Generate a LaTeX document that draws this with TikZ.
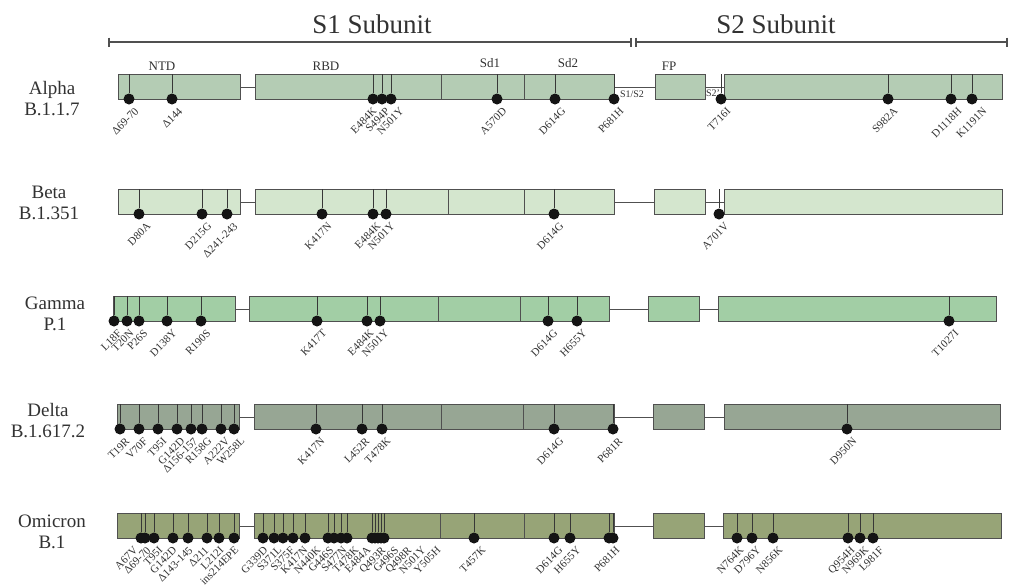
\documentclass[tikz,border=0pt]{standalone}
\usepackage{fontspec}
\setmainfont{Liberation Serif}
\newcount\mutcount
\definecolor{txt}{RGB}{50,50,50}
\definecolor{boxline}{RGB}{80,80,80}
\definecolor{mlinec}{RGB}{55,55,55}
\definecolor{dotc}{RGB}{20,20,20}
\definecolor{alphaC}{RGB}{180,204,180}
\definecolor{betaC}{RGB}{212,230,206}
\definecolor{gammaC}{RGB}{162,206,165}
\definecolor{deltaC}{RGB}{151,166,148}
\definecolor{omicronC}{RGB}{151,164,119}
\tikzset{
  seg/.style={draw=boxline, line width=1.2pt, rectangle, inner sep=0pt, minimum height=25pt, anchor=north west},
  dotn/.style={circle, fill=dotc, inner sep=0pt, minimum size=11pt},
  mlab/.style={font=\fontsize{11}{13}\selectfont, rotate=45, anchor=north east, inner sep=0.5pt, text=txt},
  mline/.style={draw=mlinec, line width=1pt},
  conn/.style={draw=boxline, line width=1pt},
  dom/.style={font=\fontsize{13}{15}\selectfont, text=txt},
  varlab/.style={font=\fontsize{19}{21}\selectfont, align=center, text=txt},
  title/.style={font=\fontsize{27}{30}\selectfont, text=txt, anchor=base},
  small/.style={font=\fontsize{10}{12}\selectfont, text=txt, inner sep=0pt},
  brk/.style={draw=boxline, line width=1.2pt},
}
% name, x1, x2, ytop, colour
\newcommand\segbox[5]{\node[seg, fill=#5, minimum width={(#3-#2)*1pt}] (#1) at (#2,#4) {};}
% x, ytop
\newcommand\divline[2]{\draw[conn] (#1,#2) -- (#1,#2+25);}
% x, ytop, label, label x
\newcommand\mut[4]{%
  \global\advance\mutcount by 1
  \node[dotn] (d\the\mutcount) at (#1,#2+25) {};
  \draw[mline] (#1,#2) -- (d\the\mutcount.north);
  \if\relax\detokenize{#3}\relax\else
  \node[mlab] (l\the\mutcount) at (#4,#2+32) {#3};
  \fi}
\begin{document}
\begin{tikzpicture}[x=1pt,y=-1pt]
\fill[white] (0,0) rectangle (1009,587);
\useasboundingbox (0,0) rectangle (1009,587);

% ---------- header ----------
\coordinate (s1a) at (109,42);
\coordinate (s1b) at (631,42);
\coordinate (s2a) at (636,42);
\coordinate (s2b) at (1007,42);
\draw[brk] (s1a) -- (s1b);
\draw[brk] (s2a) -- (s2b);
\foreach \p in {s1a,s1b,s2a,s2b} \draw[brk] ([yshift=4.5pt]\p) -- ([yshift=-4.5pt]\p);
\node[title] (t1) at (372,33) {S1 Subunit};
\node[title] (t2) at (776,33) {S2 Subunit};

\node[dom] (ntd) at (162,66) {NTD};
\node[dom] (rbd) at (326,66) {RBD};
\node[dom] (sd1) at (490,63) {Sd1};
\node[dom] (sd2) at (568,63) {Sd2};
\node[dom] (fp)  at (669,66) {FP};

% ---------- Alpha ----------
\node[varlab] (vA) at (52,99) {Alpha\\B.1.1.7};
\segbox{a1}{118}{240}{74}{alphaC}
\segbox{a2}{255}{614}{74}{alphaC}
\segbox{a3}{655}{705}{74}{alphaC}
\segbox{a4}{724}{1002}{74}{alphaC}
\draw[conn] (a1.east) -- (a2.west);
\draw[conn] (a2.east) -- (a3.west);
\draw[conn] (a3.east) -- (a4.west);
\divline{441}{74}\divline{524}{74}
\node[small] (s1s2) at (632,94) {S1/S2};
\node[small] (s2p) at (713,93) {S2'};
\mut{129}{74}{Δ69-70}{134}
\mut{172}{74}{Δ144}{178}
\mut{373}{74}{E484K}{372}
\mut{382}{74}{S494P}{385}
\mut{391}{74}{N501Y}{399}
\mut{497}{74}{A570D}{502}
\mut{555}{74}{D614G}{561}
\mut{614}{74}{P681H}{619}
\mut{721}{74}{T716I}{726}
\mut{888}{74}{S982A}{893}
\mut{951}{74}{D1118H}{957}
\mut{972}{74}{K1191N}{982}

% ---------- Beta ----------
\node[varlab] (vB) at (49,203) {Beta\\B.1.351};
\segbox{b1}{118}{240}{189}{betaC}
\segbox{b2}{255}{614}{189}{betaC}
\segbox{b3}{654}{705}{189}{betaC}
\segbox{b4}{724}{1002}{189}{betaC}
\draw[conn] (b1.east) -- (b2.west);
\draw[conn] (b2.east) -- (b3.west);
\draw[conn] (b3.east) -- (b4.west);
\divline{448}{189}\divline{524}{189}
\mut{139}{189}{D80A}{146}
\mut{202}{189}{D215G}{207}
\mut{227}{189}{Δ241-243}{233}
\mut{322}{189}{K417N}{327}
\mut{373}{189}{E484K}{376}
\mut{386}{189}{N501Y}{390}
\mut{554}{189}{D614G}{559}
\mut{719}{189}{A701V}{724}

% ---------- Gamma ----------
\node[varlab] (vG) at (55,314) {Gamma\\P.1};
\segbox{g1}{113}{235}{296}{gammaC}
\segbox{g2}{249}{609}{296}{gammaC}
\segbox{g3}{648}{699}{296}{gammaC}
\segbox{g4}{718}{996}{296}{gammaC}
\draw[conn] (g1.east) -- (g2.west);
\draw[conn] (g2.east) -- (g3.west);
\draw[conn] (g3.east) -- (g4.west);
\divline{438}{296}\divline{520}{296}
\mut{114}{296}{L18F}{117}
\mut{127}{296}{T20N}{129}
\mut{139}{296}{P26S}{143}
\mut{167}{296}{D138Y}{172}
\mut{201}{296}{R190S}{206}
\mut{317}{296}{K417T}{322}
\mut{367}{296}{E484K}{369}
\mut{380}{296}{N501Y}{384}
\mut{548}{296}{D614G}{553}
\mut{577}{296}{H655Y}{582}
\mut{949}{296}{T1027I}{954}

% ---------- Delta ----------
\node[varlab] (vD) at (48,421) {Delta\\B.1.617.2};
\segbox{e1}{117}{239}{404}{deltaC}
\segbox{e2}{254}{614}{404}{deltaC}
\segbox{e3}{653}{704}{404}{deltaC}
\segbox{e4}{724}{1000}{404}{deltaC}
\draw[conn] (e1.east) -- (e2.west);
\draw[conn] (e2.east) -- (e3.west);
\draw[conn] (e3.east) -- (e4.west);
\divline{441}{404}\divline{523}{404}
\mut{120}{404}{T19R}{125}
\mut{139}{404}{V70F}{143}
\mut{158}{404}{T95I}{162}
\mut{177}{404}{G142D}{180}
\mut{191}{404}{Δ156-157}{193}
\mut{202}{404}{R158G}{207}
\mut{221}{404}{A222V}{225}
\mut{234}{404}{W258L}{240}
\mut{316}{404}{K417N}{320}
\mut{362}{404}{L452R}{365}
\mut{382}{404}{T478K}{386}
\mut{554}{404}{D614G}{559}
\mut{613}{404}{P681R}{618}
\mut{847}{404}{D950N}{852}

% ---------- Omicron ----------
\node[varlab] (vO) at (52,532) {Omicron\\B.1};
\segbox{o1}{117}{239}{513}{omicronC}
\segbox{o2}{254}{614}{513}{omicronC}
\segbox{o3}{653}{704}{513}{omicronC}
\segbox{o4}{723}{1001}{513}{omicronC}
\draw[conn] (o1.east) -- (o2.west);
\draw[conn] (o2.east) -- (o3.west);
\draw[conn] (o3.east) -- (o4.west);
\divline{440}{513}\divline{524}{513}
\mut{141}{513}{A67V}{133}
\mut{145}{513}{Δ69-70}{146}
\mut{154}{513}{T95I}{158}
\mut{173}{513}{G142D}{172}
\mut{188}{513}{Δ143-145}{188}
\mut{207}{513}{Δ211}{204}
\mut{219}{513}{L212I}{219}
\mut{234}{513}{ins214EPE}{234}
\mut{263}{513}{G339D}{263}
\mut{274}{513}{S371L}{277}
\mut{283}{513}{S375F}{290}
\mut{293}{513}{K417N}{303}
\mut{305}{513}{N440K}{316}
\mut{328}{513}{G446S}{329}
\mut{334}{513}{S477N}{342}
\mut{341}{513}{T478K}{354}
\mut{347}{513}{E484A}{366}
\mut{372}{513}{Q493R}{381}
\mut{375}{513}{G496S}{394}
\mut{378}{513}{Q498R}{407}
\mut{381}{513}{N501Y}{421}
\mut{384}{513}{Y505H}{436}
\mut{474}{513}{T457K}{481}
\mut{554}{513}{D614G}{558}
\mut{570}{513}{H655Y}{576}
\mut{609}{513}{P681H}{615}
\mut{613}{513}{}{0}
\mut{737}{513}{N764K}{739}
\mut{752}{513}{D796Y}{756}
\mut{773}{513}{N856K}{778}
\mut{848}{513}{Q954H}{850}
\mut{860}{513}{N969K}{864}
\mut{873}{513}{L981F}{879}
\end{tikzpicture}
\end{document}
